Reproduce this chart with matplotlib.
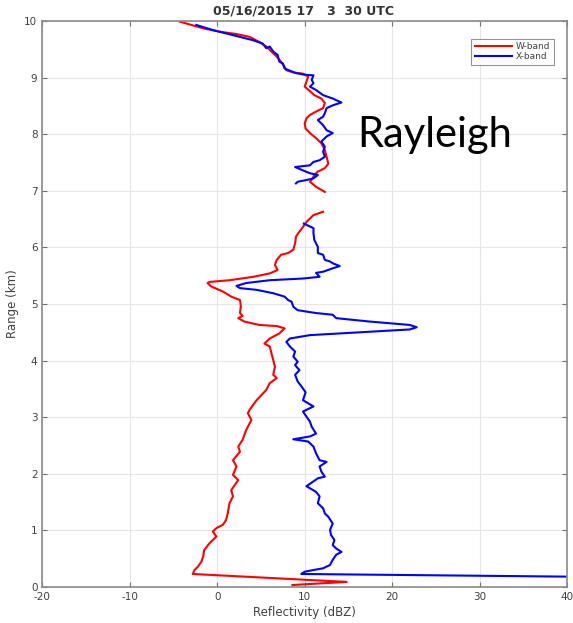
import numpy as np
import matplotlib
matplotlib.use("Agg")
import matplotlib.pyplot as plt

plt.rcParams["axes.unicode_minus"] = False

# W-band profile (dBZ vs range km), top to bottom; nan = data gap
w_dbz = [-4.3, -1.6, 0.3, 2.2, 3.7, 4.8, 5.6, 6.2, 6.8, 7.3, 7.7, 7.9, 8.7, 9.8,
         10.4, 10.2, 10.0, 10.6, 11.1, 11.9, 12.3, 12.1, 11.3, 10.6, 10.2, 10.0,
         10.1, 10.6, 11.3, 11.9, 12.3, 12.5, 12.7, 12.3, 11.5, 11.1, 10.9, 10.6,
         11.3, 12.3, np.nan,
         12.1, 11.0, 10.2, 9.8, 9.4, 9.0, 8.9, 8.7, 8.1, 7.3, 6.8, 6.6, 6.9, 6.0,
         4.1, 1.4, -0.9, -1.1, -0.7, 0.65, 1.6, 2.6, 2.7, 2.6, 2.9, 2.4, 3.1,
         4.8, 6.8, 7.7, 7.1, 6.0, 5.4, 6.0, 6.2, 6.4, 6.6, 6.4, 6.8, 6.0, 5.6,
         4.5, 3.7, 3.5, 3.9, 3.3, 2.9, 2.4, 2.6, 1.8, 2.2, 1.8, 2.4, 1.6, 1.8,
         1.4, 1.2, 1.0, 0.65, -0.1, -0.5, -0.1, -0.9, -1.5, -1.6, -1.8, -2.2,
         -2.6, -2.8, 14.8, 8.6]
w_km = [9.99, 9.87, 9.81, 9.77, 9.72, 9.63, 9.55, 9.46, 9.37, 9.28, 9.19, 9.13,
        9.09, 9.07, 9.02, 8.93, 8.84, 8.76, 8.69, 8.63, 8.55, 8.46, 8.40, 8.34,
        8.28, 8.19, 8.10, 8.02, 7.93, 7.84, 7.72, 7.60, 7.48, 7.40, 7.34, 7.28,
        7.22, 7.16, 7.07, 6.98, np.nan,
        6.63, 6.57, 6.45, 6.36, 6.28, 6.19, 6.07, 5.96, 5.90, 5.87, 5.78, 5.69,
        5.60, 5.54, 5.48, 5.42, 5.39, 5.37, 5.31, 5.22, 5.13, 5.07, 4.96, 4.84,
        4.79, 4.75, 4.69, 4.63, 4.61, 4.57, 4.48, 4.39, 4.30, 4.25, 4.13, 4.01,
        3.89, 3.75, 3.69, 3.60, 3.48, 3.30, 3.13, 3.07, 2.95, 2.77, 2.60, 2.48,
        2.39, 2.24, 2.13, 1.98, 1.89, 1.71, 1.60, 1.48, 1.30, 1.18, 1.10, 1.04,
        0.98, 0.89, 0.77, 0.65, 0.54, 0.45, 0.36, 0.30, 0.23, 0.09, 0.035]

# X-band profile
x_dbz = [-2.4, -0.5, 1.8, 4.1, 5.2, 5.6, 6.0, 6.4, 6.9, 7.1, 7.5, 7.7, 9.0, 10.0,
         11.0, 10.8, 11.0, 10.6, 11.3, 12.1, 13.2, 14.2, 13.2, 12.5, 12.3, 12.1,
         11.5, 12.1, 12.5, 13.2, 12.5, 11.9, 12.3, 12.1, 12.3, 11.7, 11.0, 10.6,
         8.9, 9.8, 10.6, 11.5, 11.0, 10.2, 9.2, 9.0, np.nan,
         9.9, 11.0, 11.0, 11.1, 11.5, 11.5, 12.1, 12.3, 12.9, 13.2, 14.0, 13.2,
         12.1, 11.3, 11.7, 9.8, 6.0, 3.3, 2.2, 2.6, 4.5, 6.4, 7.7, 8.1, 8.5, 8.7,
         9.2, 11.3, 13.2, 13.6, 17.4, 22.0, 22.8, 22.0, 17.4, 10.6, 8.3, 7.9,
         8.3, 8.9, 8.7, 9.2, 8.9, 9.4, 8.9, 9.2, 9.6, 10.1, 9.8, 11.0, 9.8, 10.2,
         10.6, 10.8, 11.3, 10.6, 8.7, 10.4, 11.0, 11.3, 11.7, 12.5, 11.7, 11.9,
         12.3, 11.5, 10.2, 11.3, 11.7, 11.5, 12.1, 12.3, 12.7, 13.2, 12.9, 13.0,
         13.4, 13.2, 13.6, 14.2, 13.6, 13.2, 12.9, 12.1, 11.0, 10.0, 9.6, 42.0]
x_km = [9.93, 9.84, 9.75, 9.66, 9.60, 9.52, 9.55, 9.46, 9.40, 9.28, 9.25, 9.16,
        9.08, 9.05, 9.04, 8.96, 8.90, 8.84, 8.78, 8.69, 8.63, 8.56, 8.51, 8.46,
        8.37, 8.31, 8.25, 8.16, 8.07, 8.02, 7.96, 7.87, 7.78, 7.69, 7.60, 7.54,
        7.51, 7.45, 7.42, 7.36, 7.31, 7.28, 7.22, 7.19, 7.16, 7.13, np.nan,
        6.42, 6.34, 6.25, 6.13, 6.01, 5.90, 5.87, 5.78, 5.75, 5.72, 5.67, 5.63,
        5.57, 5.55, 5.48, 5.45, 5.42, 5.37, 5.32, 5.28, 5.25, 5.19, 5.13, 5.07,
        5.04, 4.95, 4.89, 4.84, 4.81, 4.75, 4.69, 4.63, 4.59, 4.55, 4.51, 4.45,
        4.39, 4.33, 4.25, 4.16, 4.07, 3.98, 3.92, 3.83, 3.75, 3.63, 3.55, 3.44,
        3.30, 3.19, 3.10, 3.01, 2.92, 2.83, 2.71, 2.66, 2.61, 2.57, 2.48, 2.36,
        2.24, 2.21, 2.13, 2.04, 1.95, 1.92, 1.78, 1.68, 1.60, 1.48, 1.39, 1.30,
        1.24, 1.12, 1.01, 0.92, 0.83, 0.74, 0.68, 0.62, 0.57, 0.48, 0.39, 0.33,
        0.30, 0.27, 0.23, 0.18]

x_ticks = [-20, -10, 0, 10, 20, 30, 40]
y_ticks = list(range(0, 11))

fig = plt.figure(figsize=(5.73, 6.23), dpi=100)
ax = fig.add_axes([0.0738, 0.0578, 0.916, 0.9085])

ax.plot(w_dbz, w_km, color="#ff0000", lw=1.5, label="W-band")
ax.plot(x_dbz, x_km, color="#0000ff", lw=1.5, label="X-band")

ax.set_xlim(-20, 40)
ax.set_ylim(0, 10)
ax.set_xticks(x_ticks)
ax.set_yticks(y_ticks)
ax.grid(True, color="#e6e6e6", lw=0.8)
ax.set_axisbelow(True)
ax.tick_params(direction="in", top=True, right=True, length=3.5,
               colors="#707070", labelcolor="#404040", labelsize=7.5)
for sp in ax.spines.values():
    sp.set_color("#8a8a8a")
    sp.set_linewidth(1.2)

ax.set_xlabel("Reflectivity (dBZ)", fontsize=8.5, color="#404040", labelpad=3)
ax.set_ylabel("Range (km)", fontsize=8.5, color="#404040", labelpad=4)

leg = ax.legend(loc="upper right", bbox_to_anchor=(0.983, 0.977), fontsize=6.5,
                handlelength=4.2, frameon=True, fancybox=False,
                borderpad=0.35, labelspacing=0.2, handletextpad=0.4)
leg.get_frame().set_edgecolor("#7a7a7a")
leg.get_frame().set_linewidth(0.8)
for t in leg.get_texts():
    t.set_color("#404040")

fig.text(0.530, 0.976, "05/16/2015 17   3  30 UTC", ha="center", va="baseline",
         fontsize=9, fontweight="bold", color="#333333")
fig.text(0.623, 0.764, "Rayleigh", ha="left", va="baseline",
         fontsize=30, family="Lato", color="black")

fig.savefig("out.png", dpi=100)
